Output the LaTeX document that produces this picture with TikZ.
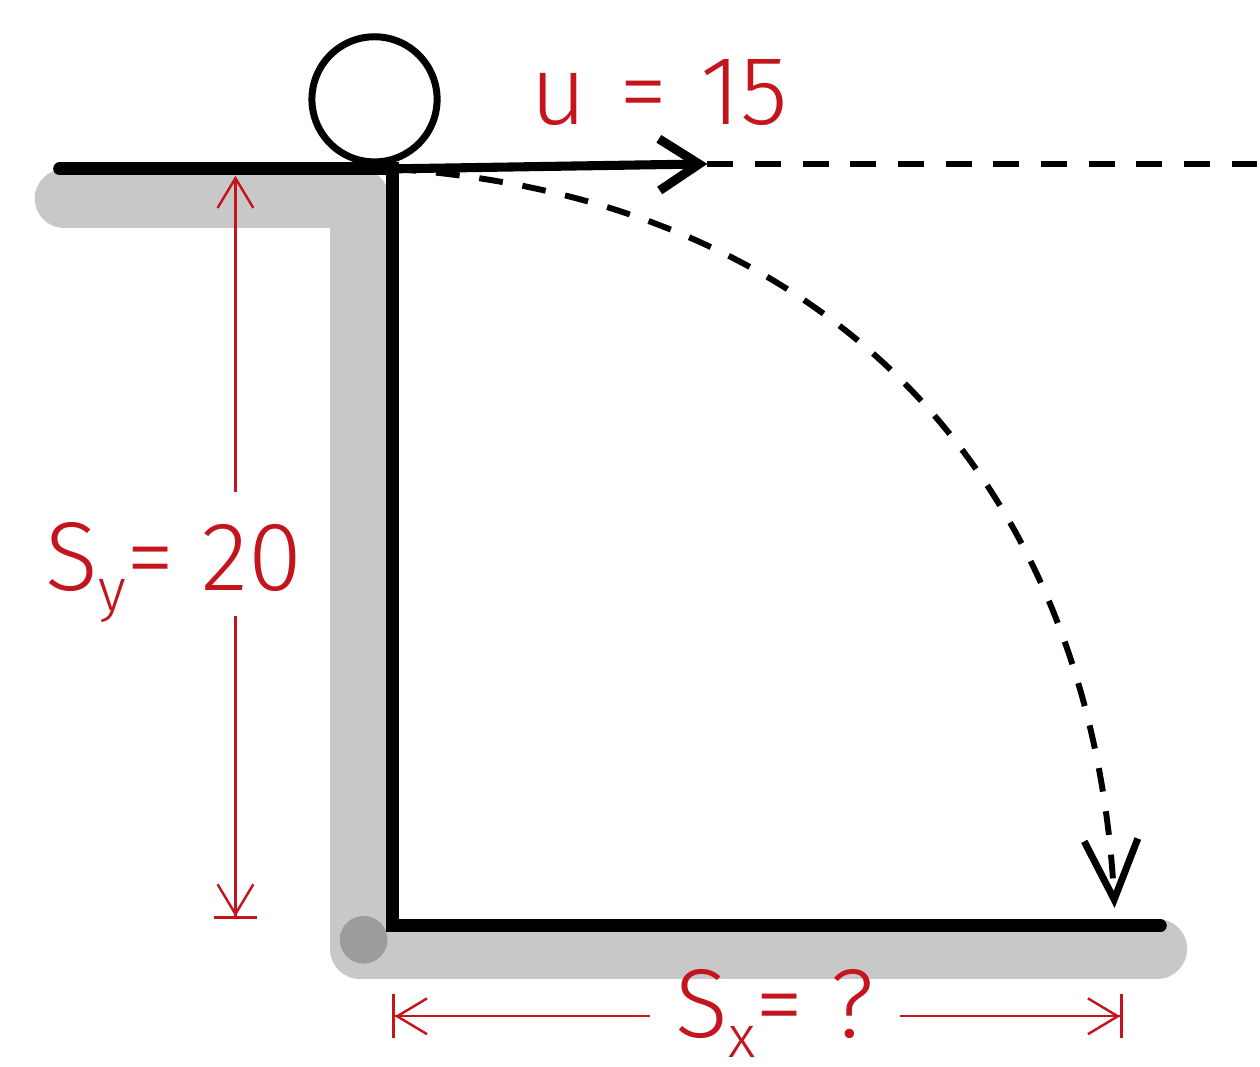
\documentclass[tikz,border=0pt]{standalone}
\usepackage{fontspec}
\setmainfont{Fira Sans Light}
\usepackage{xcolor}
\usetikzlibrary{arrows.meta,positioning,calc}
\definecolor{DimRed}{HTML}{C4141C}
\definecolor{ShadeGrey}{HTML}{C8C8C8}
\definecolor{EndGrey}{HTML}{9C9C9C}
\newcommand{\lowsub}[1]{\raisebox{-0.4ex}{\fontsize{17}{17}\selectfont #1}}

\begin{document}
\begin{tikzpicture}[>=Latex,font=\fontsize{28}{30}\selectfont]
\tikzset{ground/.style={line width=3.7pt,line cap=round,line join=miter},
         shade/.style={ShadeGrey,line width=6mm,line cap=round,line join=round},
         velo/.style={line width=2.6pt,-{Straight Barb[length=4mm,width=5.2mm]}},
         guide/.style={line width=1.9pt,dash pattern=on 2.6mm off 2.2mm},
         flight/.style={line width=1.7pt,dash pattern=on 2.4mm off 2mm,-{Straight Barb[length=6mm,width=5.4mm,line width=2pt]}},
         dimline/.style={DimRed,line width=0.7pt},
         dimend/.style={-{Straight Barb[length=3mm,width=3.6mm]Bar[width=4.4mm]}},
         dimtext/.style={text=DimRed,text height=0.93cm,text depth=0.2cm,inner ysep=0.05cm,inner xsep=0.25cm,anchor=base}}
% canvas
\fill[white] (0,0) rectangle (12.6,10.74);
% grey shadow of the cliff and the floor
\draw[shade] (0.65,8.74) -- (3.62,8.74) -- (3.62,1.19) -- (11.65,1.19);
\fill[EndGrey] (3.66,1.28) circle (0.24);
% cliff and floor
\coordinate (ledge) at (0.60,9.04);
\coordinate (rim) at (3.95,9.04);
\coordinate (foot) at (3.95,1.42);
\coordinate (floorend) at (11.68,1.42);
\draw[ground] (ledge) -- (rim) -- (foot) -- (floorend);
\node[circle,draw,line width=2pt,minimum size=1.26cm,inner sep=0] (ball) at (3.77,9.74) {};
% launch velocity
\coordinate (vtip) at (7.12,9.09);
\coordinate (farright) at (12.65,9.09);
\draw[velo] (rim) -- (vtip);
\draw[guide] (vtip) -- (farright);
\node[text=DimRed,anchor=base] (ulab) at (6.64,9.49) {u\,\,=\,\,15};
% trajectory
\coordinate (land) at (11.22,1.6);
\draw[flight] (rim) .. controls (8.5,8.74) and (11.0,5.74) .. (land);
% vertical drop
\coordinate (sytop) at (2.37,8.97);
\coordinate (sybot) at (2.37,1.49);
\node[dimtext] (sylab) at (1.75,4.8) {S\lowsub{y}= 20};
\draw[dimline,-{Straight Barb[length=3mm,width=3.6mm]}] (sytop |- sylab.north) -- (sytop);
\draw[dimline,dimend] (sybot |- sylab.south) -- (sybot);
% horizontal range
\coordinate (sxleft) at (3.95,0.51);
\coordinate (sxright) at (11.3,0.51);
\node[dimtext] (sxlab) at (7.8,0.3) {S\lowsub{x}= ?};
\draw[dimline,dimend] (sxlab.west |- sxleft) -- (sxleft);
\draw[dimline,dimend] (sxlab.east |- sxright) -- (sxright);
\end{tikzpicture}
\end{document}
